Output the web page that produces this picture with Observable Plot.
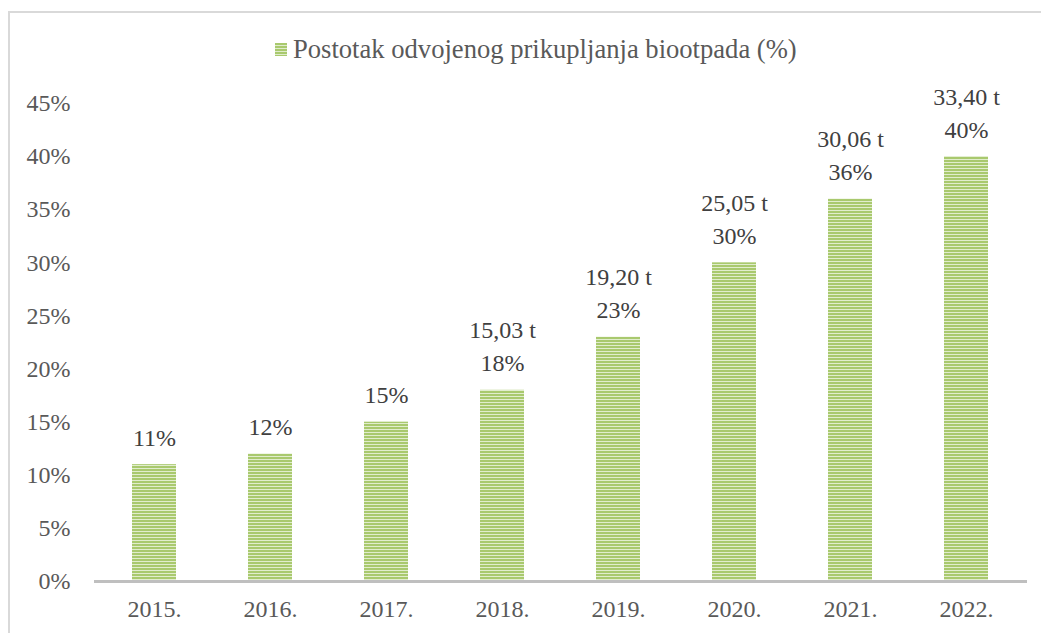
<!DOCTYPE html>
<html>
<head>
<meta charset="utf-8">
<script src="https://cdn.jsdelivr.net/npm/d3@7"></script>
<script src="https://cdn.jsdelivr.net/npm/@observablehq/plot@0.6"></script>
<style>
  html, body { margin: 0; padding: 0; background: #fff; }
  #wrap { position: relative; width: 1041px; height: 633px; overflow: hidden;
          font-family: "Liberation Serif", "Times New Roman", serif; color: #595959; }
  #frame { position: absolute; left: 8px; top: 11px; width: 1100px; height: 700px;
           border-left: 2px solid #d9d9d9; border-top: 2px solid #d9d9d9; box-sizing: border-box; }
  #legend { position: relative; height: 70px; }
  #legend .item { position: absolute; left: 275px; top: 32px; display: flex; align-items: center;
                  font-size: 26.6px; line-height: 34px; white-space: nowrap; }
  #legend .sw { width: 12px; height: 13px; margin-right: 6px;
                background: repeating-linear-gradient(to bottom, #a9c96e 0 2px, #dfeccb 2px 3px); }
  svg { display: block; position: relative; }
</style>
</head>
<body>
<div id="wrap">
  <div id="frame"></div>
  <div id="legend"><div class="item"><span class="sw"></span><span>Postotak odvojenog prikupljanja biootpada (%)</span></div></div>
  <div id="chart"></div>
</div>
<script>
const years = ["2015.", "2016.", "2017.", "2018.", "2019.", "2020.", "2021.", "2022."];
const percent = [11, 12, 15, 18, 23, 30, 36, 40];
const tonnes = [null, null, null, "15,03", "19,20", "25,05", "30,06", "33,40"];
const yTicks = [0, 5, 10, 15, 20, 25, 30, 35, 40, 45];

const data = years.map((y, i) => ({
  year: y,
  value: percent[i],
  label: tonnes[i] ? `${tonnes[i]} t\n${percent[i]}%` : `${percent[i]}%`
}));

const chart = Plot.plot({
  width: 1041,
  height: 563,
  marginLeft: 94,
  marginRight: 14,
  marginTop: 33,
  marginBottom: 52,
  style: { fontFamily: '"Liberation Serif", "Times New Roman", serif', fontSize: "24px", color: "#595959", background: "transparent", overflow: "visible" },
  x: { domain: years, paddingInner: 0.62, paddingOuter: 0.31, label: null, tickSize: 0, tickPadding: 18 },
  y: { domain: [0, 45], ticks: yTicks, tickFormat: d => d + "%", label: null, tickSize: 0, tickPadding: 24 },
  marks: [
    () => {
      const svg = d3.create("svg:defs");
      const p = svg.append("pattern").attr("id", "stripes").attr("patternUnits", "userSpaceOnUse")
        .attr("width", 8).attr("height", 3);
      p.append("rect").attr("width", 8).attr("height", 2).attr("fill", "#a9c96e");
      p.append("rect").attr("y", 2).attr("width", 8).attr("height", 1).attr("fill", "#e1edcd");
      return svg.node();
    },
    Plot.barY(data, { x: "year", y: "value", fill: "url(#stripes)" }),
    Plot.ruleY([0], { stroke: "#bfbfbf", strokeWidth: 3 }),
    Plot.text(data, { x: "year", y: "value", text: "label", lineAnchor: "bottom", dy: -19, lineHeight: 1.38, fill: "#404040", fontSize: 24 })
  ]
});
document.getElementById("chart").appendChild(chart);
</script>
</body>
</html>
